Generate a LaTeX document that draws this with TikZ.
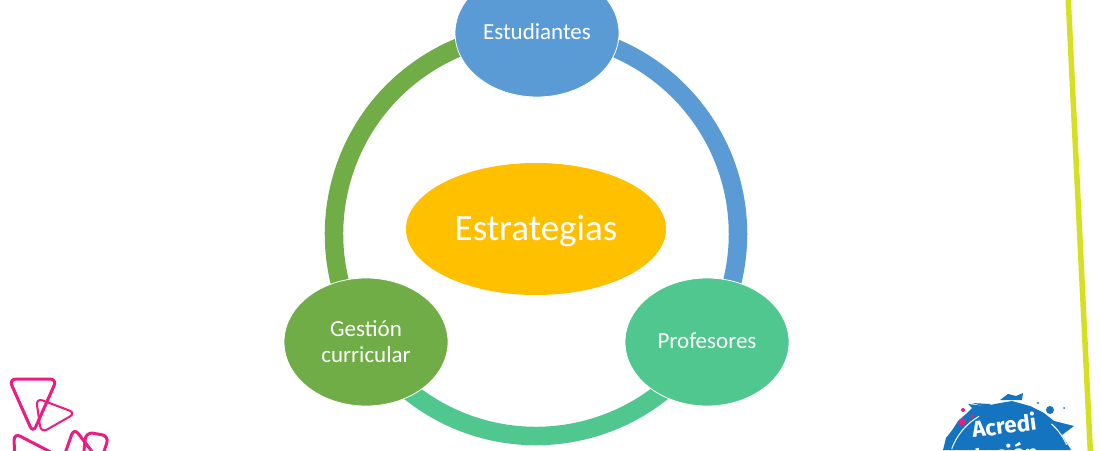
\documentclass[tikz,border=0pt]{standalone}
\usepackage{fontspec}
\setmainfont{Carlito}
\newfontfamily\logofont{Fira Sans}
\usetikzlibrary{shapes.geometric}
\definecolor{ringblue}{HTML}{5B9BD5}
\definecolor{ringteal}{HTML}{4FC78F}
\definecolor{ringgreen}{HTML}{70AD47}
\definecolor{coreamber}{HTML}{FFC000}
\definecolor{accentlime}{HTML}{D4E021}
\definecolor{accentpink}{HTML}{EC1C80}
\definecolor{logoblue}{HTML}{1574BF}
\tikzset{
  stage/.style={ellipse,draw=white,line width=0.8pt,minimum width=164pt,minimum height=128pt,inner sep=0pt,text=white,align=center,font=\fontsize{23}{25}\selectfont},
  core/.style={ellipse,fill=coreamber,minimum width=260pt,minimum height=132pt,inner sep=0pt,text=white,font=\fontsize{37}{40}\selectfont},
  ring/.style={line width=18.5pt},
  tri/.style={draw=accentpink,rounded corners=7pt,line join=round},
  logotext/.style={text=white,font=\logofont\bfseries\fontsize{22.5}{24}\selectfont,inner sep=0pt},
}
\begin{document}
\begin{tikzpicture}[x=1pt,y=1pt]
\useasboundingbox (0,0) rectangle (1100,450);
\clip (0,0) rectangle (1100,450);
\fill[white] (0,0) rectangle (1100,450);
\draw[accentlime,line width=5.5pt] (1068,455) -- (1090.5,-5);
% pink marks
\draw[tri,line width=3pt] (9,71) -- (57,71) -- (33,17) -- cycle;
\draw[tri,line width=2pt] (36,52) -- (76,37) -- (41,17) -- cycle;
\draw[tri,line width=3pt] (14,17) -- (64,-9) -- (15,-30) -- cycle;
\draw[tri,line width=3pt] (62,-12) -- (74,22) -- (100,-12) -- cycle;
\draw[tri,line width=3pt] (86,18) -- (109,14) -- (100,-14) -- (83,-10) -- cycle;
% logo
\fill[logoblue] (943,0) -- (946,12) -- (953,21) -- (958,29) -- (966,36) -- (972,42) -- (968,46) -- (985,44) -- (1000,47) -- (1012,49) -- (1030,44) -- (1044,37) -- (1054,29) -- (1074,24) -- (1062,15) -- (1068,5) -- (1071,0) -- cycle;
\fill[logoblue] (972,47) -- (993,41) -- (990,46) -- cycle;
\fill[logoblue] (1000,50) -- (1008,56) -- (1016,54) -- (1023,57) -- (1022,50) -- cycle;
\fill[logoblue] (1050,40) circle (4pt) (1038,47) circle (1.2pt) (1064,42) circle (1pt);
\draw[white,line width=1pt] (1010,-20) +(160:62pt) arc (160:120:62pt);
\draw[white,line width=1pt] (1010,-20) +(48:62pt) arc (48:24:62pt);
\fill[accentpink] (963,40) circle (2pt) (962,28) circle (3.5pt) (972,34) circle (1.8pt);
\node[logotext,rotate=7] (logoa) at (1004,25) {Acredi};
\node[logotext,rotate=3] (logob) at (1006,-3) {tación};
% diagram
\coordinate (hub) at (536,216);
\draw[ring,ringblue] (hub) ++(90:202pt) arc (90:-32.3:202pt);
\draw[ring,ringteal] (hub) ++(-32.3:202pt) arc (-32.3:-147.7:202pt);
\draw[ring,ringgreen] (hub) ++(212.3:202pt) arc (212.3:90:202pt);
\node[stage,fill=ringblue] (est) at (537,417) {\raisebox{1pt}[\height][\depth]{Estudiantes}};
\node[stage,fill=ringteal] (pro) at (707,108) {\raisebox{1pt}[\height][\depth]{Profesores}};
\node[stage,fill=ringgreen] (ges) at (366,108) {\raisebox{1pt}[\height][\depth]{Gestión}\\curricular};
\node[core] (cen) at (536,221) {\raisebox{-2pt}[\height][\depth]{Estrategias}};
\end{tikzpicture}
\end{document}
